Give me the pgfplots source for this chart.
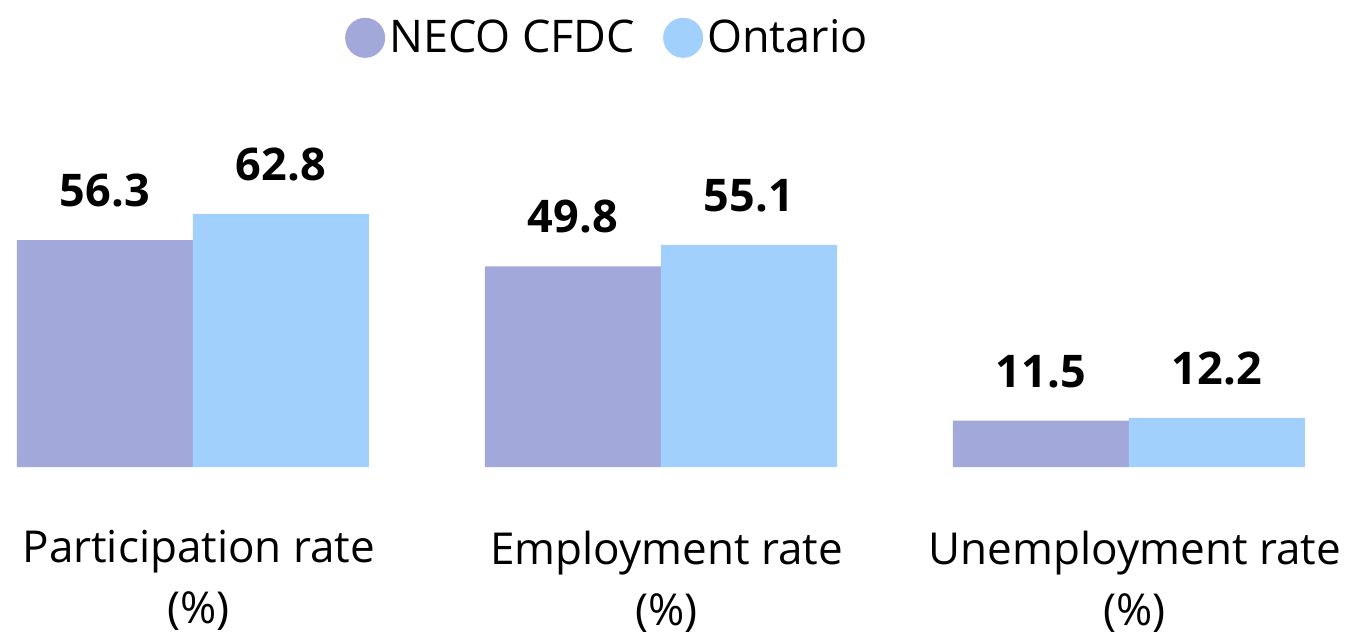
\documentclass[border=0pt]{standalone}
\usepackage{pgfplots}
\pgfplotsset{compat=1.18}
\usepackage{fontspec}
\setmainfont{Open Sans}
\definecolor{neco}{HTML}{A2A8D9}
\definecolor{ont}{HTML}{A1D0FC}
\begin{document}
\begin{tikzpicture}[x=1pt,y=1pt]
\useasboundingbox (0,-88) rectangle (673,233.5);
\begin{axis}[
  at={(0,0)}, anchor=south west,
  scale only axis, width=673pt, height=233.5pt,
  xmin=-0.412, xmax=2.464, ymin=0, ymax=115.9,
  clip=false,
  axis x line=bottom, axis y line=none,
  x axis line style={draw=none},
  xtick style={draw=none},
  ytick=\empty,
  ybar=0pt, bar width=0.376,
  xtick={0,1,2},
  xticklabels={{Participation rate\\(\%)},{Employment rate\\(\%)},{Unemployment rate\\(\%)}},
  xticklabel style={align=center, font=\fontsize{22}{30.5}\selectfont, yshift=-24pt, xshift=3pt},
  /pgf/number format/assume math mode=true,
  /pgf/number format/.cd, fixed, fixed zerofill, precision=1, /pgfplots/.cd,
  nodes near coords,
  nodes near coords style={font=\bfseries\fontsize{22.5}{24}\selectfont, anchor=south, yshift=13pt},
  legend style={at={(rel axis cs:0.452,0.919)}, anchor=center, draw=none, fill=none,
    legend columns=2, font=\fontsize{22.5}{24}\selectfont,
    /tikz/every even column/.append style={column sep=12pt}},
]
\addplot[fill=neco, draw=none,
  legend image code/.code={\fill[neco] (8pt,0pt) circle (10pt);}]
  coordinates {(0,56.3) (1,49.8) (2,11.5)};
\addplot[fill=ont, draw=none,
  legend image code/.code={\fill[ont] (8pt,0pt) circle (10pt);}]
  coordinates {(0,62.8) (1,55.1) (2,12.2)};
\legend{NECO CFDC, Ontario}
\end{axis}
\end{tikzpicture}
\end{document}
